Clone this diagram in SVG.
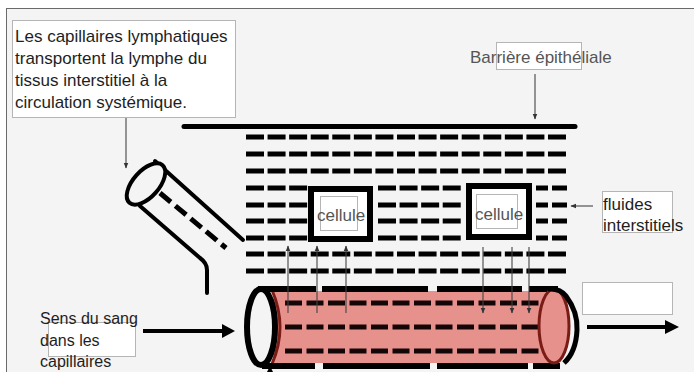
<svg xmlns="http://www.w3.org/2000/svg" width="694" height="372" viewBox="0 0 694 372">
  <defs>
    <marker id="tip" viewBox="0 0 10 10" refX="9" refY="5" markerWidth="6" markerHeight="6" orient="auto" markerUnits="userSpaceOnUse">
      <path d="M0,1 L10,5 L0,9 Z" fill="#333"/>
    </marker>
    <style>
      text { font-family: "Liberation Sans", Arial, sans-serif; font-size: 17px; }
      .dark { fill: #1e1e1e; }
      .grey { fill: #555; }
      .small { font-size: 16px; }
      .lbl { fill: #fff; stroke: #b5b5b5; stroke-width: 1; }
      .grid { stroke: #000; stroke-width: 5; fill: none; stroke-dasharray: 18 3.57; }
      .seg { stroke: #000; stroke-width: 5; fill: none; }
      .wall { stroke: #000; fill: none; stroke-linecap: round; }
      .inner { stroke: #140606; stroke-width: 5; fill: none; stroke-dasharray: 17 4.5; }
      .thin { stroke: #444; stroke-width: 1.1; fill: none; }
      .cell { fill: #fff; stroke: #000; stroke-width: 6; }
      .flow { stroke: #000; stroke-width: 4; fill: none; }
    </style>
  </defs>

  <!-- frame -->
  <rect x="6.5" y="8.5" width="700" height="380" fill="#f4f4f4" stroke="#6a6a6a" stroke-width="1"/>

  <!-- epithelial barrier -->
  <g id="barriere">
    <line x1="184" y1="126.5" x2="575" y2="126.5" stroke="#000" stroke-width="5" stroke-linecap="round"/>
  </g>

  <!-- interstitial fluid grid -->
  <g id="fluide">
    <path class="grid" d="M246 137H567 M246 154H567 M246 171H567 M246 254H567 M246 271H567"/>
    <path class="grid" d="M246 188H308 M246 205H308 M246 221H308 M246 238H308"/>
    <path class="grid" d="M378 188H461 M378 205H461 M378 221H461 M378 238H461"/>
    <path class="seg" d="M536 188H548 M552 188H567 M536 205H548 M552 205H567 M536 221H548 M552 221H567 M536 238H548 M552 238H567"/>
  </g>

  <!-- cells -->
  <g id="cellule1">
    <rect class="cell" x="311" y="189" width="59" height="50"/>
    <rect class="lbl" x="320.5" y="196.5" width="37" height="34"/>
    <text class="grey" x="317" y="221">cellule</text>
  </g>
  <g id="cellule2">
    <rect class="cell" x="469" y="186" width="60" height="51"/>
    <rect class="lbl" x="476.5" y="194.5" width="41" height="34"/>
    <text class="grey" x="475" y="220">cellule</text>
  </g>

  <!-- lymphatic capillary -->
  <g id="lymphatique">
    <path class="wall" stroke-width="4" d="M155 161 L243 240"/>
    <path class="wall" stroke-width="4" d="M140 206 L200 258 Q207 263 207 270 L207 293"/>
    <path stroke="#000" stroke-width="5" fill="none" stroke-dasharray="14 6" d="M160 193 L226 248"/>
    <ellipse cx="146" cy="184" rx="13" ry="25" transform="rotate(41.6 146 184)" fill="#f4f4f4" stroke="#000" stroke-width="4"/>
  </g>

  <!-- blood capillary -->
  <g id="sanguin">
    <rect x="274" y="291" width="282" height="72" fill="#e7918c"/>
    <path d="M272 290 Q288 327 272 364" stroke="#7a1c16" stroke-width="3" fill="none"/>
    <path class="inner" d="M285 303H540 M285 327H540 M285 351H540"/>
    <path stroke="#000" stroke-width="6" fill="none" d="M258 289H316 M322 289H428 M437 289H522 M529 289H558 M262 366H315 M323 366H430 M437 366H528 M533 366H560"/>
    <ellipse cx="554" cy="326" rx="15" ry="37" fill="#e7918c" stroke="#7a1c16" stroke-width="3"/>
    <path d="M548 289 Q560 288 566 296 Q578 312 577 330 Q576 352 564 363" stroke="#000" stroke-width="5" fill="none"/>
    <ellipse cx="261" cy="327" rx="14" ry="38" fill="#f4f4f4" stroke="#000" stroke-width="6"/>
  </g>

  <!-- labels -->
  <g id="texte-lymphe">
    <rect class="lbl" x="12.5" y="20.5" width="223" height="97"/>
    <text class="dark" x="15" y="42">Les capillaires lymphatiques</text>
    <text class="dark" x="15" y="64">transportent la lymphe du</text>
    <text class="dark" x="15" y="86">tissus interstitiel à la</text>
    <text class="dark" x="15" y="108">circulation systémique.</text>
  </g>
  <g id="texte-barriere">
    <rect class="lbl" x="496.5" y="42.5" width="85" height="27"/>
    <text class="grey" x="470" y="63">Barrière épithéliale</text>
  </g>
  <g id="texte-fluides">
    <rect class="lbl" x="602.5" y="191.5" width="70" height="41"/>
    <text class="dark" x="603" y="210">fluides</text>
    <text class="dark" x="603" y="231">interstitiels</text>
  </g>
  <g id="texte-sang">
    <rect class="lbl" x="48.5" y="322.5" width="87" height="34"/>
    <text class="dark small" x="40" y="324">Sens du sang</text>
    <text class="dark small" x="40" y="346">dans les</text>
    <text class="dark small" x="40" y="367">capillaires</text>
  </g>
  <g id="case-vide">
    <rect class="lbl" x="582.5" y="282.5" width="90" height="32"/>
  </g>

  <!-- connectors -->
  <g id="connecteurs">
    <line class="thin" x1="126" y1="118" x2="126" y2="168" marker-end="url(#tip)"/>
    <line class="thin" x1="535" y1="74" x2="535" y2="119" marker-end="url(#tip)"/>
    <line class="thin" x1="593" y1="206" x2="571" y2="206" marker-end="url(#tip)"/>
    <line class="thin" x1="288" y1="313" x2="288" y2="246" marker-end="url(#tip)"/>
    <line class="thin" x1="317" y1="313" x2="317" y2="246" marker-end="url(#tip)"/>
    <line class="thin" x1="346" y1="313" x2="346" y2="246" marker-end="url(#tip)"/>
    <line class="thin" x1="483" y1="247" x2="483" y2="313" marker-end="url(#tip)"/>
    <line class="thin" x1="512" y1="247" x2="512" y2="313" marker-end="url(#tip)"/>
    <line class="thin" x1="529" y1="247" x2="529" y2="313" marker-end="url(#tip)"/>
    <line class="flow" x1="143" y1="331" x2="224" y2="331"/>
    <path d="M222 324 L235 331 L222 338 Z" fill="#000"/>
    <line class="flow" x1="587" y1="327" x2="667" y2="327"/>
    <path d="M665 320 L679 327 L665 334 Z" fill="#000"/>
    <path d="M267 372 L270 366 L273 372 Z" fill="#000"/>
  </g>
</svg>
